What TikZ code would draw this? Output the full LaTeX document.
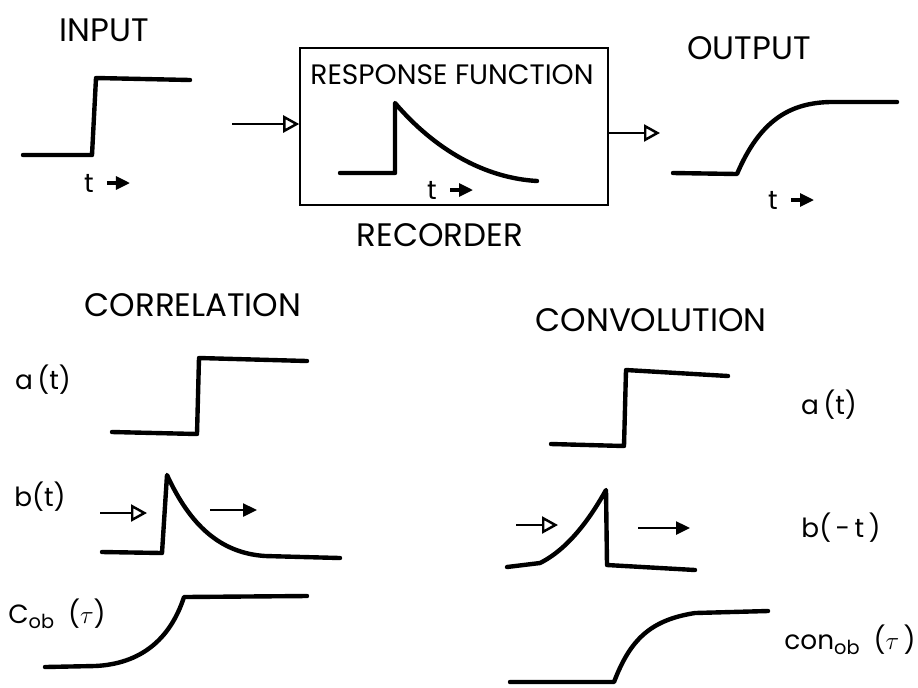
\documentclass[tikz,border=0pt]{standalone}
\usepackage{fontspec}
\setmainfont{Poppins}
\usetikzlibrary{arrows.meta}

\tikzset{
  sig/.style={line width=2.5pt, line join=round, line cap=round},
  flow/.style={line width=1.4pt, -{Triangle[open,length=0.32cm,width=0.34cm]}},
  slide/.style={line width=1.4pt, -{Triangle[length=0.28cm,width=0.26cm]}},
  title/.style={font=\fontsize{18.5}{18.5}\selectfont, inner sep=0pt},
  fn/.style={font=\fontsize{15}{15}\selectfont, inner sep=0pt},
}

\begin{document}
\begin{tikzpicture}[x=0.02cm, y=-0.02cm]
\useasboundingbox (0,0) rectangle (918,687);

% top row: input -> recorder -> output
\node[title] (input) at (104,30) {INPUT};
\node[title] (output) at (749,48) {OUTPUT};
\node[draw, line width=0.9pt, minimum width=6.16cm, minimum height=3.14cm, inner sep=0pt] (rec) at (454,126.5) {};
\node[title, font=\fontsize{16}{16}\selectfont] (resp) at (452,75) {RESPONSE FUNCTION};
\node[title] (recorder) at (440,235) {RECORDER};

\draw[sig] (23,155) -- (92,155) -- (96,78) -- (190,80);
\draw[sig] (340,173) -- (395,173) -- (395,103)
      .. controls (435,150) and (485,178) .. (537,181);
\draw[sig] (673,173) -- (737,174)
      .. controls (760,120) and (790,103) .. (830,102) -- (897,102);

% time axis marks
\foreach \n/\x/\y in {tin/89/183, tresp/432/190, tout/773/200}{
       \node[fn] (\n) at (\x,\y) {t};
       \draw[slide, line width=1.8pt] ([xshift=0.36cm]\n.center) -- ++(0.46cm,0);
}

\coordinate (inA) at (232,124);
\coordinate (outB) at (660,133);
\draw[flow] (inA) -- (inA -| rec.west);
\draw[flow] (outB -| rec.east) -- (outB);

% correlation
\node[title] (corr) at (193,305) {CORRELATION};
\node[fn] (ca) at (43,380) {a\,(t)};
\node[fn] (cb) at (40,497) {b(t)};
\node[fn] (cc) at (57,614) {C{\fontsize{11}{11}\selectfont\raisebox{-0.5ex}{ob}}\ \ ($\tau$)};

\draw[sig] (112,432) -- (197,434) -- (199,358) -- (307,361);
\draw[sig] (102,552) -- (162,553) -- (167,475)
      .. controls (190,525) and (220,553) .. (265,556) -- (340,558);
\draw[sig] (45,667) -- (95,666)
      .. controls (140,664) and (170,640) .. (184,597) -- (307,596);

\coordinate (ci1) at (100,513);
\coordinate (ci2) at (147,513);
\coordinate (co1) at (210,510);
\coordinate (co2) at (257,510);
\draw[flow] (ci1) -- (ci2);
\draw[slide] (co1) -- (co2);

% convolution
\node[title] (conv) at (651,320) {CONVOLUTION};
\node[fn] (va) at (829,405) {a\,(t)};
\node[fn] (vb) at (841,528) {b(\,-\,t\,)};
\node[fn] (vc) at (850,640) {con{\fontsize{11}{11}\selectfont\raisebox{-0.5ex}{ob}}\ \ ($\tau$\,)};

\draw[sig] (551,444) -- (624,446) -- (626,370) -- (728,376);
\draw[sig] (507,567) -- (540,563)
      .. controls (570,548) and (592,515) .. (606,490) -- (607,565) -- (695,570);
\draw[sig] (510,682) -- (614,682)
      .. controls (630,640) and (650,620) .. (695,613) -- (768,611);

\coordinate (vi1) at (516,525);
\coordinate (vi2) at (558,525);
\coordinate (vo1) at (638,528);
\coordinate (vo2) at (690,528);
\draw[flow] (vi1) -- (vi2);
\draw[slide] (vo1) -- (vo2);

\end{tikzpicture}
\end{document}
